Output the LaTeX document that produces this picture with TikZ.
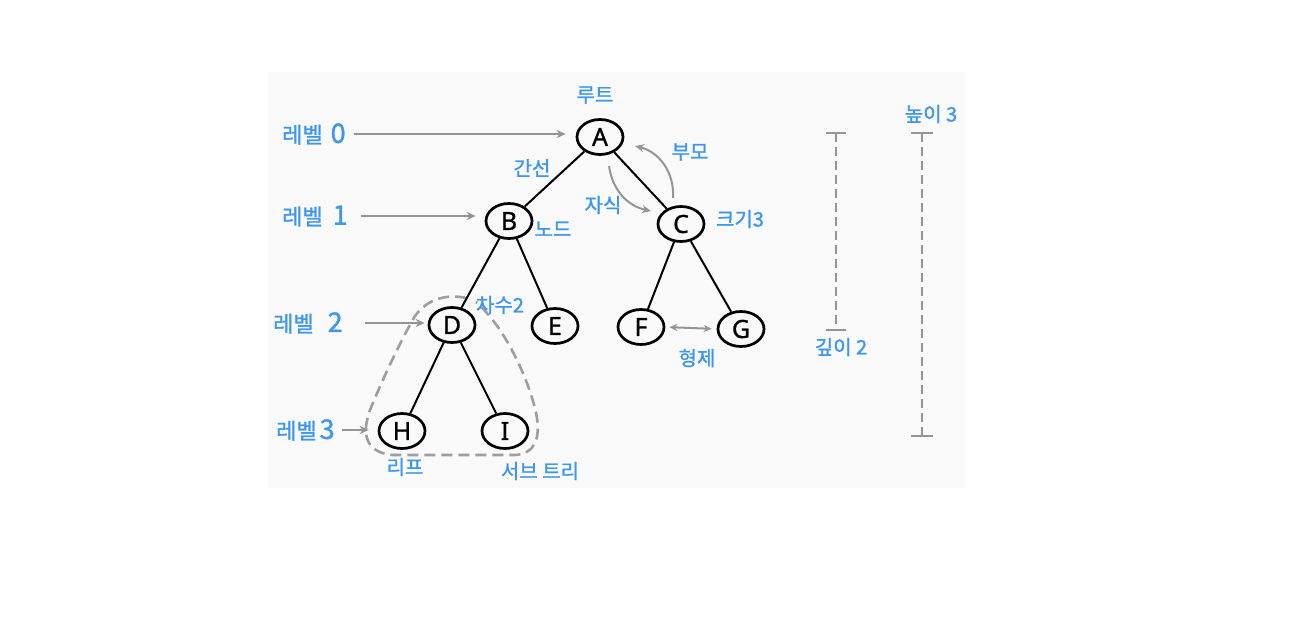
\documentclass[tikz,border=0pt]{standalone}
\usepackage{fontspec}
\setmainfont{Noto Sans}
\newfontfamily\kr[FakeBold=1.2]{Noto Sans CJK KR}
\newfontfamily\nodefont[FakeBold=1.0]{Noto Sans}
\usetikzlibrary{shapes.geometric,arrows.meta}
\definecolor{lblue}{HTML}{3D96F0}
\definecolor{agray}{HTML}{959595}
\definecolor{bggray}{HTML}{FAFAFA}
\newcommand{\bigdig}[1]{{\fontsize{27}{27}\selectfont #1}}
\begin{document}
\begin{tikzpicture}[x=1pt,y=-1pt,
 tnode/.style={ellipse,draw,line width=2.7pt,minimum width=46pt,minimum height=35pt,inner sep=0pt,font=\nodefont\fontsize{25}{25}\selectfont},
 lbl/.style={text=lblue,font=\kr\fontsize{20}{20}\selectfont,inner sep=0pt},
 lvl/.style={text=lblue,font=\kr\fontsize{22}{22}\selectfont,inner sep=0pt,anchor=west},
 tedge/.style={line width=2pt},
 garrow/.style={agray,line width=2pt,-{Stealth[length=9pt,width=8pt]}},
 gdarrow/.style={agray,line width=2pt,{Stealth[length=8pt,width=7pt]}-{Stealth[length=8pt,width=7pt]}},
 gbar/.style={agray,line width=1.8pt,dash pattern=on 9pt off 5pt},
 gcap/.style={agray,line width=1.8pt},
 subtree/.style={black!38,line width=2.6pt,dash pattern=on 11pt off 6pt}]
\useasboundingbox (0,0) rectangle (1290,626);
\fill[bggray] (268,72) rectangle (966,488);
% subtree outline
\draw[subtree] (466,298) .. controls (448,294) and (428,298) .. (415,316)
  .. controls (398,345) and (378,390) .. (370,410)
  .. controls (362,432) and (364,452) .. (392,455) -- (515,455)
  .. controls (534,454) and (540,440) .. (537,418)
  .. controls (532,388) and (508,330) .. (476,302);
% tree nodes
\node[tnode] (A) at (600,137) {A};
\node[tnode] (B) at (509,221) {B};
\node[tnode] (C) at (681,224) {C};
\node[tnode] (D) at (452,325) {D};
\node[tnode] (E) at (555,326) {E};
\node[tnode] (F) at (641,327) {F};
\node[tnode] (G) at (741,329) {G};
\node[tnode] (H) at (402,431) {H};
\node[tnode] (I) at (505,431) {I};
\draw[tedge] (A) -- (B);
\draw[tedge] (A) -- (C);
\draw[tedge] (B) -- (D);
\draw[tedge] (B) -- (E);
\draw[tedge] (C) -- (F);
\draw[tedge] (C) -- (G);
\draw[tedge] (D) -- (H);
\draw[tedge] (D) -- (I);
% level labels
\node[lvl] (l0) at (282,134) {레벨\hspace{8pt}\bigdig{0}};
\node[lvl] (l1) at (282,216) {레벨\hspace{10pt}\bigdig{1}};
\node[lvl] (l2) at (273,323) {레벨\hspace{14pt}\bigdig{2}};
\node[lvl] (l3) at (276,430) {레벨\hspace{3pt}\bigdig{3}};
\draw[garrow,shorten <=8pt,shorten >=10pt] (l0.east) -- (l0.east -| A.west);
\draw[garrow,shorten <=13pt,shorten >=9pt] (l1.east) -- (l1.east -| B.west);
\draw[garrow,shorten <=22pt,shorten >=3pt] (l2.east) -- (l2.east -| D.west);
\draw[garrow,shorten <=7pt,shorten >=9pt] (l3.east) -- (l3.east -| H.west);
% other labels
\node[lbl] (root) at (595,95) {루트};
\node[lbl] (edge) at (532,168) {간선};
\node[lbl] (parent) at (690,152) {부모};
\node[lbl] (child) at (603,205) {자식};
\node[lbl] (nodel) at (553,229) {노드};
\node[lbl] (size) at (740,219) {크기3};
\node[lbl] (deg) at (500,305) {차수2};
\node[lbl] (sib) at (697,358) {형제};
\node[lbl] (leaf) at (405,467) {리프};
\node[lbl] (sub) at (540,471) {서브 트리};
\node[lbl] (depth) at (841,347) {깊이 2};
\node[lbl] (height) at (931,114) {높이 3};
% curved arrows
\coordinate (cs) at (609,166);
\coordinate (ce) at (651,211);
\draw[garrow] (cs) to[bend right=35] (ce);
\coordinate (ps) at (673,198);
\coordinate (pe) at (635,146);
\draw[garrow] (ps) to[bend right=40] (pe);
% sibling
\draw[gdarrow,shorten <=4pt,shorten >=5pt] (F.east) -- (G.west);
% depth and height bars
\coordinate (d1) at (836,133);
\coordinate (d2) at (836,330);
\draw[gbar] (d1) -- (d2);
\draw[gcap] ([xshift=-10pt]d1) -- ([xshift=10pt]d1);
\draw[gcap] ([xshift=-10pt]d2) -- ([xshift=10pt]d2);
\coordinate (h1) at (922,133);
\coordinate (h2) at (922,436);
\draw[gbar] (h1) -- (h2);
\draw[gcap] ([xshift=-11pt]h1) -- ([xshift=11pt]h1);
\draw[gcap] ([xshift=-11pt]h2) -- ([xshift=11pt]h2);
\end{tikzpicture}
\end{document}
